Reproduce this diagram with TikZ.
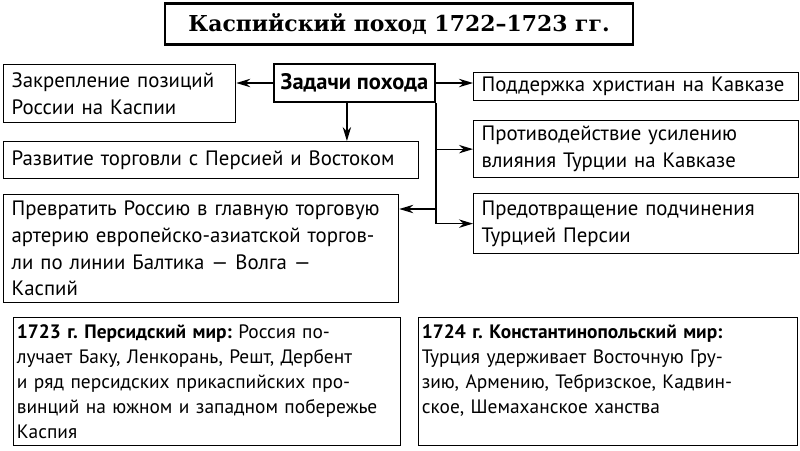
\documentclass[tikz,border=0pt]{standalone}
\usepackage{fontspec}
\setmainfont{PT Sans}
\newfontfamily\titlefont{DejaVu Serif}
\usetikzlibrary{arrows.meta}
\frenchspacing

\tikzset{
  box/.style={draw=black, line width=0.9pt, anchor=north west, align=left, inner xsep=0.2cm, inner ysep=0.05cm, font=\fontsize{14.8pt}{19pt}\selectfont},
  mir/.style={box, inner xsep=0.08cm, font=\fontsize{13.8pt}{17.8pt}\selectfont},
  arr/.style={-{Stealth[length=10pt,width=6pt]}, line width=0.9pt}
}

\begin{document}
\begin{tikzpicture}
\useasboundingbox (0,0) rectangle (20,-11.25);

\node[draw=black, line width=2pt, minimum width=11.7cm, minimum height=1.025cm, font=\titlefont\bfseries\fontsize{15.6pt}{17pt}\selectfont] (title) at (9.975,-0.59) {Каспийский поход 1722–1723 гг.};
\node[draw=black, line width=1.6pt, minimum width=4.025cm, minimum height=0.95cm, font=\bfseries\fontsize{16pt}{18pt}\selectfont] (zadachi) at (8.8625,-2.075) {Задачи похода};

\node[box, text width=5.4cm, minimum height=1.45cm] (kaspiy) at (0.075,-1.6) {Закрепление позиций\\России на Каспии};
\node[box, text width=9.975cm, minimum height=0.925cm] (torg) at (0.075,-3.525) {Развитие торговли с Персией и Востоком};
\node[box, text width=9.475cm, minimum height=2.7cm] (arteria) at (0.075,-4.85) {Превратить Россию в главную торговую\\артерию европейско-азиатской торгов-\\ли по линии Балтика — Волга —\\Каспий};

\node[box, text width=7.725cm, minimum height=0.7cm] (hrist) at (11.825,-1.8) {Поддержка христиан на Кавказе};
\node[box, text width=7.725cm, minimum height=1.425cm] (vliyanie) at (11.825,-3.0) {Противодействие усилению\\влияния Турции на Кавказе};
\node[box, text width=7.725cm, minimum height=1.5cm] (persia) at (11.825,-4.825) {Предотвращение подчинения\\Турцией Персии};

\node[mir, text width=9.515cm, minimum height=3.2cm] (persmir) at (0.325,-7.925) {\textbf{1723 г. Персидский мир:} Россия по-\\лучает Баку, Ленкорань, Решт, Дербент\\и ряд персидских прикаспийских про-\\винций на южном и западном побережье\\Каспия};
\node[mir, text width=9.315cm, minimum height=3.2cm] (konstmir) at (10.45,-7.925) {\textbf{1724 г. Константинопольский мир:}\\Турция удерживает Восточную Гру-\\зию, Армению, Тебризское, Кадвин-\\ское, Шемаханское ханства\\\mbox{}};

\draw[arr] (zadachi.west) -- (zadachi.west -| kaspiy.east);
\draw[arr] ([xshift=-0.19cm]zadachi.south) -- ([xshift=-0.19cm]zadachi.south |- torg.north);
\draw[arr] (zadachi.east) -- (zadachi.east -| hrist.west);
\draw[arr] (zadachi.south east) |- (persia.west);
\draw[arr] (zadachi.south east |- vliyanie.west) -- (vliyanie.west);
\draw[arr] (zadachi.south east |- 0,-5.225) -- (arteria.east |- 0,-5.225);
\end{tikzpicture}
\end{document}
